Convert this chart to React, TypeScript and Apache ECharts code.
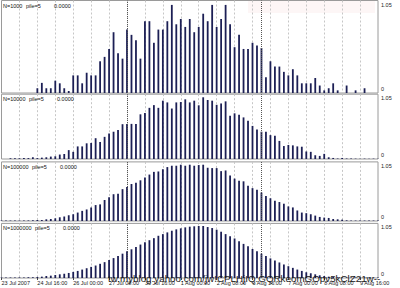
import React, { useEffect, useRef } from 'react';
import * as echarts from 'echarts';

// ---- data ----
const tickLabels = [
  '23 Jul 2007', '24 Jul 16:00', '26 Jul 00:00', '27 Jul 08:00', '30 Jul 16:00', '1 Aug 00:00',
  '2 Aug 08:00', '3 Aug 16:00', '7 Aug 00:00', '8 Aug 08:00', '9 Aug 16:00',
];
const barSlots = Array.from({ length: 85 }, (_, i) => String(i));
const weekSeparators = [28, 58];
const panelNames = ['N=1000', 'N=10000', 'N=100000', 'N=1000000'];
const pileLabel = 'pile=5';
const valueLabel = '0.0000';
const watermark = 'tw.myblog.yahoo.com/jw!CPLHjIQ.GQRkeomGOpv5kClZ21w--';

const n1000 = [
  0, 0, 0, 0, 0, 0, 0, 0,
  0.054, 0.115, 0.054, 0.054, 0.14, 0.11, 0.054, 0.023,
  0.2, 0.2, 0.11, 0.23, 0.2, 0.2, 0.36, 0.41,
  0.5, 0.69, 0.45, 0.39, 0.72, 0.66, 0.6, 0.39,
  0.815, 0.815, 0.57, 0.72, 0.72, 0.815, 1.0, 0.78,
  0.84, 0.75, 0.84, 0.69, 0.75, 0.9, 0.815, 1.0,
  0.75, 0.84, 1.0, 0.78, 0.52, 0.66, 0.5, 0.5,
  0.57, 0.54, 0.51, 0.18, 0.36, 0.3, 0.3, 0.24,
  0.2, 0.27, 0.2, 0.11, 0.11, 0.11, 0.17, 0.085,
  0.03, 0.054, 0.11, 0.03, 0, 0.085, 0, 0.03,
  0, 0.054, 0, 0, 0,
];
const n10000 = [
  0, 0, 0.012, 0.012, 0.012, 0.015, 0.015, 0.028,
  0.015, 0.022, 0.028, 0.039, 0.044, 0.072, 0.083, 0.144,
  0.116, 0.204, 0.204, 0.254, 0.26, 0.337, 0.276, 0.359,
  0.414, 0.442, 0.47, 0.564, 0.569, 0.569, 0.569, 0.724,
  0.746, 0.829, 0.873, 0.829, 0.945, 0.917, 0.818, 0.917,
  0.923, 0.967, 0.917, 0.945, 0.87, 1.0, 0.956, 0.945,
  0.878, 0.9, 0.934, 0.7, 0.74, 0.718, 0.674, 0.619,
  0.536, 0.48, 0.442, 0.442, 0.387, 0.376, 0.293, 0.21,
  0.227, 0.221, 0.204, 0.199, 0.122, 0.116, 0.061, 0.05,
  0.083, 0.028, 0.017, 0.008, 0.017, 0.008, 0.008, 0.006,
  0.006, 0.006, 0.006, 0.006, 0.006,
];
const n100000 = [
  0.008, 0.008, 0.008, 0.008, 0.008, 0.008, 0.01, 0.012,
  0.018, 0.018, 0.03, 0.036, 0.048, 0.066, 0.078, 0.102,
  0.12, 0.15, 0.18, 0.205, 0.24, 0.283, 0.295, 0.373,
  0.42, 0.476, 0.482, 0.566, 0.602, 0.657, 0.68, 0.723,
  0.771, 0.825, 0.873, 0.88, 0.92, 0.958, 0.982, 0.982,
  1.0, 0.982, 1.0, 0.982, 0.994, 1.0, 0.946, 0.94,
  0.94, 0.886, 0.898, 0.807, 0.753, 0.717, 0.705, 0.627,
  0.584, 0.554, 0.506, 0.446, 0.404, 0.361, 0.337, 0.307,
  0.259, 0.241, 0.187, 0.15, 0.139, 0.12, 0.096, 0.072,
  0.06, 0.054, 0.036, 0.03, 0.024, 0.012, 0.008, 0.008,
  0.008, 0.008, 0.008, 0.008, 0.008,
];
const n1000000 = [
  0.01, 0.01, 0.01, 0.01, 0.012, 0.012, 0.015, 0.015,
  0.02, 0.026, 0.039, 0.045, 0.058, 0.071, 0.084, 0.097,
  0.117, 0.136, 0.162, 0.188, 0.214, 0.24, 0.273, 0.305,
  0.344, 0.383, 0.422, 0.468, 0.513, 0.552, 0.597, 0.643,
  0.688, 0.727, 0.766, 0.812, 0.844, 0.877, 0.909, 0.935,
  0.955, 0.974, 0.987, 0.994, 1.0, 1.0, 0.98, 0.961,
  0.929, 0.89, 0.844, 0.805, 0.76, 0.708, 0.656, 0.61,
  0.558, 0.513, 0.468, 0.422, 0.377, 0.338, 0.299, 0.26,
  0.227, 0.195, 0.162, 0.136, 0.11, 0.091, 0.071, 0.052,
  0.039, 0.026, 0.019, 0.013, 0.01, 0.01, 0.01, 0.01,
  0.01, 0.01, 0.01, 0.01, 0.01,
];
const panelSeries = [n1000, n10000, n100000, n1000000];
const yMin = 0;
const yMax = 1.05;

// ---- layout ----
const FONT = 'Liberation Sans, Arial, sans-serif';
const gridLeft = 1.5;
const gridWidth = 376.5;
const panelBoxes = [
  { top: 0.5, height: 92.5 },
  { top: 94.2, height: 64.8 },
  { top: 161.9, height: 59.1 },
  { top: 223.4, height: 54.6 },
];
const pileLeft = [26, 29, 32, 35];
const valueLeft = [54, 57, 60, 63];
const BAR = '#1c1f55';

export default function App() {
  const ref = useRef<HTMLDivElement>(null);
  useEffect(() => {
    if (!ref.current) return;
    const chart = echarts.init(ref.current, undefined, { renderer: 'svg' });
    const last = panelBoxes.length - 1;

    const grid = panelBoxes.map((b) => ({
      left: gridLeft,
      top: b.top,
      width: gridWidth,
      height: b.height,
      show: true,
      borderColor: '#9a9a9a',
      borderWidth: 1,
      containLabel: false,
      outerBoundsMode: 'none',
    }));

    const xAxis = panelBoxes.map((_, i) => ({
      type: 'category',
      gridIndex: i,
      data: barSlots,
      boundaryGap: false,
      axisLine: { show: false },
      axisTick:
        i === last
          ? { show: true, interval: 7, length: 2, lineStyle: { color: '#444' } }
          : { show: false },
      axisLabel:
        i === last
          ? {
              show: true,
              interval: 7,
              align: 'left',
              margin: 2,
              fontSize: 5.5,
              color: '#222',
              fontFamily: FONT,
              hideOverlap: false,
              formatter: (_v: string, idx: number) => tickLabels[idx / 8] ?? '',
            }
          : { show: false },
      splitLine: {
        show: true,
        interval: (idx: number) => idx % 4 === 0 && idx > 0 && idx < barSlots.length - 1,
        lineStyle: { color: '#c6c6c6', type: [2, 2], width: 1 },
      },
    }));

    const yAxis = panelBoxes.map((_, i) => ({
      type: 'value',
      gridIndex: i,
      position: 'right',
      min: yMin,
      max: yMax,
      interval: yMax,
      splitLine: { show: false },
      axisLine: { show: false },
      axisTick: { show: false },
      axisLabel: {
        show: true,
        margin: 3,
        fontSize: 5.5,
        color: '#222',
        fontFamily: FONT,
        formatter: (v: number) => (v === 0 ? '{b|0}' : '{t|' + yMax.toFixed(2) + '}'),
        rich: {
          t: { fontSize: 5.5, fontFamily: FONT, color: '#222', padding: [8, 0, 0, 0] },
          b: { fontSize: 5.5, fontFamily: FONT, color: '#222', padding: [0, 0, 8, 0] },
        },
      },
    }));

    const series = panelSeries.map((data, i) => ({
      type: 'bar',
      xAxisIndex: i,
      yAxisIndex: i,
      data,
      barWidth: 1.8,
      clip: false,
      itemStyle: { color: BAR },
      markLine: {
        silent: true,
        symbol: 'none',
        label: { show: false },
        lineStyle: { color: '#555', type: [1, 1], width: 1 },
        data: weekSeparators.map((x) => ({ xAxis: x })),
      },
    }));

    const textStyle = { fontSize: 5.5, fontWeight: 'normal', color: '#111', fontFamily: FONT };
    const title: any[] = [];
    panelNames.forEach((name, i) => {
      const top = panelBoxes[i].top + 2;
      title.push({ text: name, left: 3, top, padding: 0, textStyle });
      title.push({ text: pileLabel, left: pileLeft[i], top, padding: 0, textStyle });
      title.push({ text: valueLabel, left: valueLeft[i], top, padding: 0, textStyle });
    });

    chart.setOption({
      animation: false,
      backgroundColor: '#ffffff',
      title,
      grid,
      xAxis,
      yAxis,
      series,
      graphic: [
        {
          type: 'rect',
          left: 248,
          top: 1,
          z: -1,
          shape: { width: 127, height: 12 },
          style: { fill: '#fdf6f6' },
        },
        {
          type: 'text',
          left: 108,
          top: 273,
          z: 100,
          style: { text: watermark, fontSize: 9.8, fill: '#1a1a1a', fontFamily: FONT },
        },
      ],
    });
    return () => chart.dispose();
  }, []);
  return (
    <div
      ref={ref}
      style={{ position: 'fixed', left: 0, top: 0, width: 400, height: 288, background: '#fff' }}
    />
  );
}
